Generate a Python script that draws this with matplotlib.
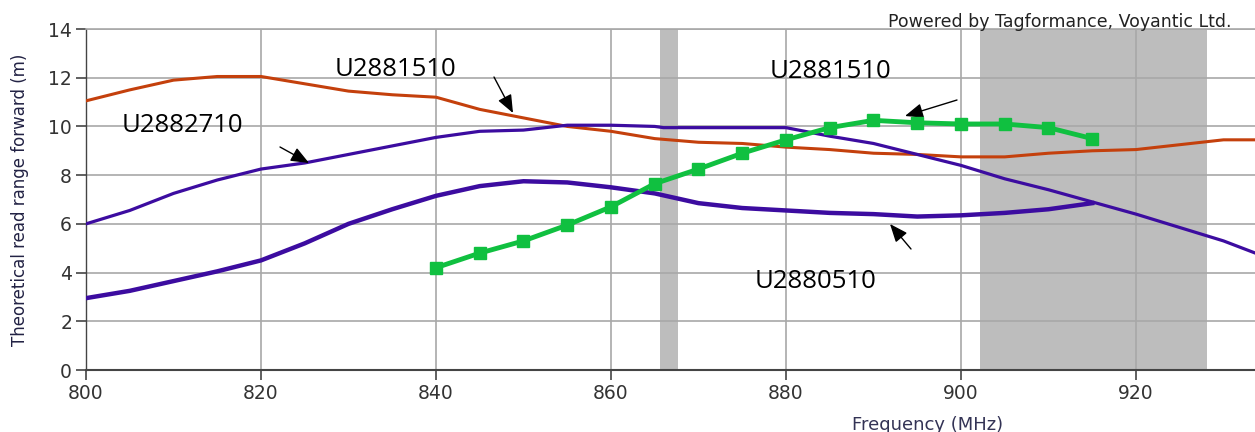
import matplotlib
matplotlib.use("Agg")
import matplotlib.pyplot as plt

# ---- data ----
freq_orange = [800, 805, 810, 815, 820, 825, 830, 835, 840, 845, 850, 855, 860, 865, 870,
               875, 880, 885, 890, 895, 900, 905, 910, 915, 920, 925, 930, 934]
u2881510_a = [11.05, 11.5, 11.9, 12.05, 12.05, 11.75, 11.45, 11.3, 11.2, 10.7, 10.35, 10.0,
              9.8, 9.5, 9.35, 9.3, 9.15, 9.05, 8.9, 8.85, 8.75, 8.75, 8.9, 9.0, 9.05, 9.25,
              9.45, 9.45]

freq_upper = [800, 805, 810, 815, 820, 825, 830, 835, 840, 845, 850, 855, 860, 865, 866,
              870, 875, 880, 885, 890, 895, 900, 905, 910, 915, 920, 925, 930, 934]
u2882710 = [6.0, 6.55, 7.25, 7.8, 8.25, 8.5, 8.85, 9.2, 9.55, 9.8, 9.85, 10.05, 10.05, 10.0,
            9.95, 9.95, 9.95, 9.95, 9.6, 9.3, 8.85, 8.4, 7.85, 7.4, 6.9, 6.4, 5.85, 5.3, 4.75]

freq_lower = [800, 805, 810, 815, 820, 825, 830, 835, 840, 845, 850, 855, 860, 865, 870,
              875, 880, 885, 890, 895, 900, 905, 910, 915]
u2880510 = [2.95, 3.25, 3.65, 4.05, 4.5, 5.2, 6.0, 6.6, 7.15, 7.55, 7.75, 7.7, 7.5, 7.25,
            6.85, 6.65, 6.55, 6.45, 6.4, 6.3, 6.35, 6.45, 6.6, 6.85]

freq_green = [840, 845, 850, 855, 860, 865, 870, 875, 880, 885, 890, 895, 900, 905, 910, 915]
u2881510_b = [4.2, 4.8, 5.3, 5.95, 6.7, 7.65, 8.25, 8.9, 9.45, 9.95, 10.25, 10.15, 10.1,
              10.1, 9.95, 9.5]

bands = [(865.6, 867.6), (902.2, 928.1)]
xticks = [800, 820, 840, 860, 880, 900, 920]
yticks = [0, 2, 4, 6, 8, 10, 12, 14]

# ---- figure ----
fig = plt.figure(figsize=(12.55, 4.32), dpi=100)
ax = fig.add_axes([86 / 1255, 1 - 370 / 432, 1 - 86 / 1255, 341 / 432])

for a, b in bands:
    ax.axvspan(a, b, color="#bdbdbd", lw=0, zorder=0.5)

ax.set_xlim(800, 933.6)
ax.set_ylim(0, 14)
ax.set_xticks(xticks)
ax.set_yticks(yticks)
ax.grid(True, color="#a8a8a8", lw=1.2, zorder=0.6)
ax.set_axisbelow(True)

ax.plot(freq_orange, u2881510_a, color="#c4400c", lw=2.2, zorder=3)
ax.plot(freq_upper, u2882710, color="#3c0ca0", lw=2.3, zorder=3)
ax.plot(freq_lower, u2880510, color="#3c0ca0", lw=3.2, zorder=3)
ax.plot(freq_green, u2881510_b, color="#10c040", lw=3.5, marker="s", ms=9, zorder=4)

ax.spines["right"].set_visible(False)
ax.spines["top"].set_color("#a8a8a8")
ax.spines["top"].set_linewidth(1.2)
ax.spines["left"].set_color("#444444")
ax.spines["bottom"].set_color("#444444")
ax.spines["left"].set_linewidth(1.0)
ax.spines["bottom"].set_linewidth(1.5)

ax.tick_params(axis="both", direction="out", length=7, width=1.2, color="#444444",
               labelsize=13.5, labelcolor="#333333", pad=3)

# annotations (text labels)
tfont = dict(fontsize=18.5, color="black", family="Open Sans", va="center", ha="left")
ax.annotate("U2881510", xy=(335 / 1255, 1 - 70 / 432), xycoords="figure fraction", **tfont)
ax.annotate("U2882710", xy=(122 / 1255, 1 - 125 / 432), xycoords="figure fraction", **tfont)
ax.annotate("U2881510", xy=(770 / 1255, 1 - 72 / 432), xycoords="figure fraction", **tfont)
ax.annotate("U2880510", xy=(755 / 1255, 1 - 282 / 432), xycoords="figure fraction", **tfont)

# arrows (figure-pixel positions of annotation arrows)
arrows = [((280, 147), (309, 163)),
          ((494, 77), (513, 113)),
          ((957, 100), (905, 116)),
          ((911, 249), (890, 224))]
for (x0, y0), (x1, y1) in arrows:
    ax.annotate("", xy=(x1 / 1255, 1 - y1 / 432), xytext=(x0 / 1255, 1 - y0 / 432),
                xycoords="figure fraction", textcoords="figure fraction",
                arrowprops=dict(arrowstyle="-|>,head_length=1.1,head_width=0.45",
                                color="black", lw=1.0, shrinkA=0, shrinkB=0))

fig.text(1232 / 1255, 1 - 22 / 432, "Powered by Tagformance, Voyantic Ltd.", ha="right",
         va="center", fontsize=12.5, color="#222222")
fig.text(852 / 1255, 1 - 425 / 432, "Frequency (MHz)", ha="left", va="center",
         fontsize=13, color="#333355")
fig.text(20 / 1255, 1 - 200 / 432, "Theoretical read range forward (m)", rotation=90,
         ha="center", va="center", fontsize=12, color="#222244")

fig.savefig("out.png", dpi=100)
